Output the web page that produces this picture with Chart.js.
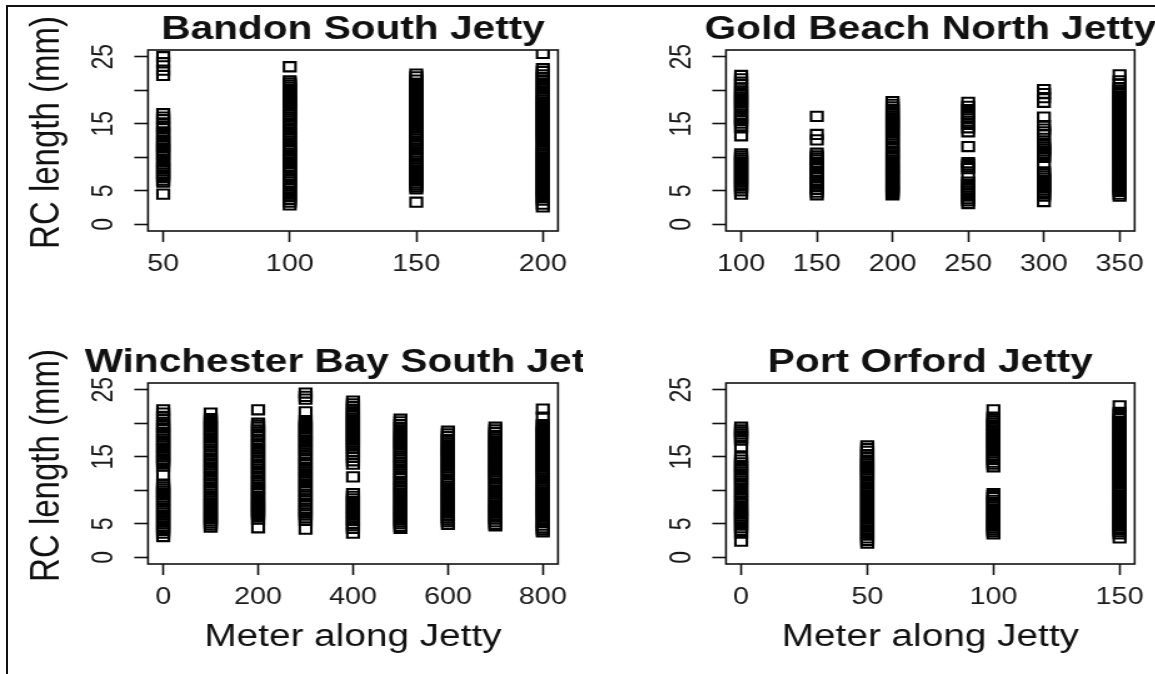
<!DOCTYPE html>
<html>
<head>
<meta charset="utf-8">
<title>RC length along jetties</title>
<script src="https://cdn.jsdelivr.net/npm/chart.js@4.4.1/dist/chart.umd.min.js"></script>
<style>
  body { margin: 0; background: #fff; }
  #page { position: relative; width: 1155px; height: 674px; overflow: hidden; background: #fff; }
  #frame { position: absolute; left: 6px; top: 5px; right: -10px; bottom: -10px; border-left: 2px solid #111; border-top: 2px solid #111; }
  canvas { position: absolute; transform: scaleX(1.25); transform-origin: 0 0; }
</style>
</head>
<body>
<div id="page">
  <div id="frame"></div>
  <canvas id="bandon" width="466" height="337" style="left:0px;top:0px"></canvas>
  <canvas id="goldBeach" width="462" height="337" style="left:577.5px;top:0px"></canvas>
  <canvas id="winchester" width="466" height="337" style="left:0px;top:333px"></canvas>
  <canvas id="portOrford" width="462" height="337" style="left:577.5px;top:333px"></canvas>
</div>
<script>
// RC length (mm) of every sample, one list per station along the jetty
const bandonMeters = [50, 100, 150, 200];
const bandonLengths = [
  [25.0, 24.1, 23.0, 22.2, 16.5, 16.0, 15.6, 15.0, 14.6, 14.3, 13.8, 13.5, 13.2, 12.6, 12.3, 12.0, 11.7, 11.4, 11.1, 10.8, 10.5, 10.2, 9.6, 9.3, 9.0, 8.6, 8.3, 8.0, 7.6, 7.3, 7.0, 6.6, 6.3, 4.5],
  [23.5, 21.4, 21.1, 20.8, 20.5, 20.2, 19.8, 19.5, 19.2, 18.9, 18.6, 18.3, 18.0, 17.7, 17.4, 17.1, 16.8, 16.5, 16.0, 15.7, 15.4, 15.0, 14.7, 14.2, 13.8, 13.5, 13.1, 12.8, 12.4, 12.0, 11.6, 11.3, 11.0, 10.6, 10.3, 10.0, 9.6, 9.3, 9.0, 8.6, 8.3, 8.0, 7.7, 7.3, 7.0, 6.7, 6.3, 6.0, 5.7, 5.3, 4.9, 4.5, 4.1, 3.7, 3.3, 2.9],
  [22.4, 22.0, 21.5, 21.0, 20.7, 20.4, 20.1, 19.8, 19.5, 19.1, 18.8, 18.5, 18.2, 17.9, 17.6, 17.3, 17.0, 16.7, 16.4, 16.1, 15.8, 15.5, 15.2, 14.8, 14.4, 14.1, 13.7, 13.4, 13.1, 12.7, 12.4, 12.0, 11.7, 11.4, 11.1, 10.8, 10.4, 10.1, 9.8, 9.4, 9.1, 8.8, 8.4, 8.1, 7.8, 7.5, 7.1, 6.8, 6.5, 6.2, 5.9, 5.6, 5.3, 3.3],
  [25.5, 23.2, 22.8, 22.3, 21.9, 21.5, 21.1, 20.7, 20.3, 19.9, 19.5, 19.2, 18.8, 18.5, 18.2, 17.9, 17.6, 17.3, 17.0, 16.7, 16.4, 16.1, 15.8, 15.5, 15.2, 14.9, 14.6, 14.3, 14.0, 13.7, 13.4, 13.1, 12.8, 12.5, 12.0, 11.7, 11.2, 10.9, 10.6, 10.3, 10.0, 9.7, 9.4, 9.1, 8.8, 8.5, 8.2, 7.9, 7.6, 7.3, 7.0, 6.7, 6.4, 6.1, 5.8, 5.5, 5.2, 4.9, 4.6, 4.3, 4.0, 3.6, 3.0, 2.6],
];

const goldMeters = [100, 150, 200, 250, 300, 350];
const goldLengths = [
  [22.2, 21.7, 21.2, 20.8, 20.3, 19.9, 19.6, 19.3, 19.0, 18.7, 18.4, 18.1, 17.8, 17.5, 17.2, 16.8, 16.4, 16.1, 15.8, 15.5, 15.1, 14.7, 14.4, 13.2, 10.5, 10.2, 9.9, 9.6, 9.3, 9.0, 8.7, 8.4, 8.1, 7.8, 7.5, 7.2, 6.9, 6.6, 6.3, 6.0, 5.7, 5.4, 5.0, 4.5],
  [16.1, 13.4, 12.6, 10.6, 10.2, 9.9, 9.6, 9.2, 8.9, 8.6, 8.3, 7.9, 7.6, 7.3, 7.0, 6.6, 6.3, 6.0, 5.6, 5.2, 4.8, 4.4],
  [18.3, 17.9, 17.5, 17.1, 16.7, 16.4, 16.1, 15.8, 15.5, 15.2, 14.9, 14.6, 14.3, 14.0, 13.7, 13.3, 13.0, 12.7, 12.3, 12.0, 11.6, 11.3, 10.9, 10.6, 10.3, 10.0, 9.6, 9.3, 9.0, 8.6, 8.3, 8.0, 7.7, 7.4, 7.1, 6.8, 6.4, 6.1, 5.8, 5.5, 5.2, 4.9, 4.6, 4.4],
  [18.2, 17.6, 17.1, 16.5, 16.0, 15.4, 14.9, 14.4, 13.8, 11.6, 9.2, 8.9, 8.6, 8.3, 7.2, 6.3, 6.0, 5.6, 5.3, 5.0, 4.6, 4.2, 3.8, 3.5, 3.1],
  [20.1, 19.5, 18.9, 18.2, 16.0, 14.7, 14.2, 13.8, 13.4, 12.1, 11.8, 11.5, 11.2, 10.9, 10.6, 10.3, 10.0, 8.9, 7.8, 7.5, 7.2, 6.9, 6.6, 6.3, 6.0, 5.7, 5.4, 5.1, 4.8, 4.5, 4.2, 3.4],
  [22.3, 21.4, 20.9, 20.4, 20.0, 19.7, 19.4, 19.1, 18.8, 18.5, 18.2, 17.9, 17.6, 17.3, 17.0, 16.7, 16.4, 16.1, 15.8, 15.5, 15.2, 14.9, 14.6, 14.3, 14.0, 13.7, 13.4, 13.1, 12.8, 12.5, 12.2, 11.9, 11.6, 11.3, 11.0, 10.7, 10.4, 10.1, 9.8, 9.5, 9.2, 8.9, 8.6, 8.3, 8.0, 7.6, 7.3, 7.0, 6.7, 6.4, 6.1, 5.8, 5.5, 5.2, 4.9, 4.5, 4.2],
];

const winchesterMeters = [0, 100, 200, 300, 400, 500, 600, 700, 800];
const winchesterLengths = [
  [22.0, 21.5, 21.0, 20.5, 19.9, 19.6, 19.3, 19.0, 18.6, 18.3, 18.0, 17.6, 17.3, 17.0, 16.6, 16.3, 16.0, 15.6, 15.3, 15.0, 14.6, 14.3, 14.0, 13.6, 12.3, 10.8, 10.5, 10.2, 9.9, 9.6, 9.3, 9.0, 8.6, 8.3, 8.0, 7.6, 7.3, 7.0, 6.6, 6.3, 6.0, 5.6, 5.3, 5.0, 4.6, 4.3, 4.0, 3.6, 3.1],
  [21.5, 20.7, 20.4, 20.1, 19.8, 19.5, 19.1, 18.8, 18.5, 18.1, 17.8, 17.5, 17.1, 16.8, 16.5, 16.1, 15.8, 15.4, 15.1, 14.8, 14.4, 14.1, 13.8, 13.4, 13.1, 12.8, 12.4, 12.1, 11.8, 11.4, 11.1, 10.8, 10.4, 10.1, 9.8, 9.4, 9.1, 8.8, 8.4, 8.1, 7.8, 7.5, 7.2, 6.9, 6.6, 6.3, 6.0, 5.7, 5.4, 5.1, 4.8, 4.5],
  [22.0, 20.0, 19.7, 19.4, 19.0, 18.7, 18.3, 18.0, 17.6, 17.3, 16.9, 16.6, 16.2, 15.9, 15.6, 15.2, 14.9, 14.5, 14.2, 13.9, 13.5, 13.2, 12.8, 12.5, 12.1, 11.8, 11.4, 11.1, 10.8, 10.4, 10.1, 9.8, 9.5, 9.1, 8.8, 8.5, 8.2, 7.9, 7.6, 7.3, 7.0, 6.7, 6.4, 6.1, 5.7, 4.4],
  [24.5, 24.0, 23.6, 21.7, 20.4, 20.1, 19.8, 19.5, 19.2, 18.8, 18.5, 18.2, 17.9, 17.5, 17.2, 16.9, 16.5, 16.2, 15.9, 15.5, 15.2, 14.8, 14.5, 14.1, 13.8, 13.4, 13.0, 12.7, 12.3, 11.9, 11.6, 11.2, 10.8, 10.5, 10.1, 9.8, 9.4, 9.1, 8.7, 8.4, 8.0, 7.7, 7.3, 7.0, 6.6, 6.3, 5.9, 5.5, 4.2],
  [23.3, 22.9, 22.5, 22.1, 21.7, 21.4, 21.1, 20.8, 20.5, 20.2, 19.9, 19.6, 19.3, 19.0, 18.7, 18.4, 18.1, 17.8, 17.5, 17.2, 16.9, 16.6, 16.2, 15.8, 15.4, 14.9, 14.4, 13.9, 12.0, 9.5, 9.1, 8.7, 8.3, 7.9, 7.5, 7.1, 6.7, 6.3, 5.9, 5.5, 5.1, 4.7, 4.3, 3.6],
  [20.6, 20.2, 19.8, 19.4, 19.0, 18.6, 18.3, 18.0, 17.7, 17.4, 17.1, 16.8, 16.5, 16.2, 15.9, 15.5, 15.1, 14.8, 14.5, 14.2, 13.8, 13.5, 13.1, 12.7, 12.4, 12.0, 11.7, 11.3, 10.9, 10.6, 10.3, 10.0, 9.6, 9.3, 9.0, 8.7, 8.3, 8.0, 7.7, 7.4, 7.1, 6.8, 6.5, 6.2, 5.9, 5.6, 5.3, 5.0, 4.6, 4.3],
  [18.8, 18.4, 18.0, 17.6, 17.3, 17.0, 16.7, 16.4, 16.1, 15.8, 15.5, 15.2, 14.9, 14.6, 14.3, 13.9, 13.6, 13.3, 13.0, 12.7, 12.4, 12.0, 11.6, 11.3, 11.0, 10.6, 10.3, 10.0, 9.7, 9.4, 9.1, 8.8, 8.5, 8.2, 7.8, 7.5, 7.2, 6.9, 6.6, 6.2, 5.9, 5.6, 5.3, 4.9],
  [19.4, 19.0, 18.6, 18.2, 17.9, 17.6, 17.3, 17.0, 16.7, 16.4, 16.1, 15.8, 15.5, 15.2, 14.8, 14.5, 14.2, 13.9, 13.6, 13.3, 13.0, 12.7, 12.4, 12.1, 11.8, 11.4, 11.0, 10.6, 10.3, 9.9, 9.5, 9.1, 8.7, 8.4, 8.1, 7.8, 7.5, 7.2, 6.9, 6.6, 6.3, 6.0, 5.7, 5.3, 4.9, 4.7],
  [22.1, 20.9, 19.8, 19.5, 19.2, 18.9, 18.6, 18.3, 18.0, 17.7, 17.4, 17.1, 16.8, 16.5, 16.2, 15.9, 15.6, 15.3, 15.0, 14.7, 14.4, 14.1, 13.8, 13.5, 13.2, 12.9, 12.6, 12.2, 11.8, 11.4, 11.0, 10.7, 10.3, 10.0, 9.7, 9.4, 9.1, 8.8, 8.5, 8.2, 7.9, 7.6, 7.3, 7.0, 6.7, 6.4, 6.0, 5.6, 5.2, 4.8, 4.4, 4.1, 3.8],
];

const portMeters = [0, 50, 100, 150];
const portLengths = [
  [19.4, 19.0, 18.7, 18.4, 18.1, 17.8, 17.5, 16.5, 14.9, 14.5, 14.1, 13.7, 13.4, 13.1, 12.7, 12.4, 12.1, 11.7, 11.4, 11.0, 10.6, 10.2, 9.8, 9.4, 9.0, 8.7, 8.3, 7.9, 7.5, 7.1, 6.8, 6.5, 6.2, 5.9, 5.6, 5.2, 4.8, 4.4, 4.0, 3.6, 2.4],
  [16.6, 16.2, 15.8, 15.3, 14.9, 14.5, 14.2, 13.9, 13.6, 13.3, 13.0, 12.7, 12.4, 12.1, 11.7, 11.3, 10.9, 10.5, 10.1, 9.7, 9.3, 8.9, 8.5, 8.1, 7.7, 7.3, 6.9, 6.5, 6.1, 5.7, 5.3, 4.9, 4.5, 4.1, 3.7, 3.3, 2.9, 2.5, 2.1],
  [22.0, 20.9, 20.6, 20.3, 20.0, 19.7, 19.4, 19.0, 18.7, 18.4, 18.1, 17.8, 17.5, 17.1, 16.8, 16.5, 16.2, 15.9, 15.6, 15.2, 14.9, 14.6, 14.2, 13.9, 13.5, 9.5, 9.2, 8.9, 8.5, 8.2, 7.9, 7.5, 7.2, 6.9, 6.5, 6.2, 5.9, 5.6, 5.3, 5.0, 4.7, 4.4, 4.1, 3.8, 3.5],
  [22.6, 21.6, 21.3, 21.0, 20.7, 20.3, 20.0, 19.7, 19.4, 19.1, 18.8, 18.5, 18.2, 17.9, 17.6, 17.3, 17.0, 16.7, 16.4, 16.1, 15.8, 15.5, 15.2, 14.9, 14.6, 14.3, 14.0, 13.7, 13.4, 13.1, 12.8, 12.5, 12.2, 11.9, 11.6, 11.3, 11.0, 10.6, 10.2, 9.9, 9.6, 9.3, 9.0, 8.7, 8.4, 8.1, 7.8, 7.5, 7.2, 6.8, 6.5, 6.2, 5.9, 5.6, 5.3, 5.0, 4.7, 4.4, 4.1, 3.8, 3.5, 2.9],
];

// axis ticks
const bandonTicks = [50, 100, 150, 200];
const goldTicks = [100, 150, 200, 250, 300, 350];
const winchesterTicks = [0, 200, 400, 600, 800];
const portTicks = [0, 50, 100, 150];
const lengthTicks = [0, 5, 10, 15, 20, 25];
const lengthTickLabels = ["0", "5", "", "15", "", "25"];

const FONT = '"Liberation Sans", Arial, Helvetica, sans-serif';
Chart.defaults.font.family = FONT;
Chart.defaults.color = "#1a1a1a";

// box around the plot region, bold heading and the rotated y label
const panelText = {
  id: "panelText",
  afterDraw: (chart, args, opts) => {
    let ctx = chart.ctx;
    let area = chart.chartArea;
    ctx.save();

    ctx.strokeStyle = "#111";
    ctx.lineWidth = 1.6;
    ctx.strokeRect(area.left, area.top, area.right - area.left, area.bottom - area.top);

    ctx.fillStyle = "#111";
    ctx.textAlign = "center";
    ctx.textBaseline = "alphabetic";
    ctx.font = "bold 32.5px " + FONT;
    ctx.fillText(opts.title, (area.left + area.right) / 2, area.top - 11);

    if (opts.yLabel) {
      ctx.translate(38, (area.top + area.bottom) / 2 - 8);
      ctx.rotate(-Math.PI / 2);
      ctx.font = "33px " + FONT;
      ctx.textBaseline = "middle";
      ctx.fillText(opts.yLabel, 0, 0);
    }
    ctx.restore();
  },
};

function drawPanel(id, meters, lengths, meterTicks, xMin, xMax, opts) {
  const points = [];
  meters.forEach((m, i) => {
    lengths[i].forEach((v) => points.push({ x: m, y: v }));
  });

  const tickGrid = {
    display: true,
    drawOnChartArea: false,
    drawTicks: true,
    tickLength: 11,
    tickWidth: 1.6,
    tickColor: "#111",
  };

  return new Chart(document.getElementById(id).getContext("2d"), {
    type: "scatter",
    data: {
      datasets: [
        {
          data: points,
          pointStyle: "rect",
          pointRadius: 6.5,
          pointBorderWidth: 2.1,
          pointBorderColor: "#000",
          pointBackgroundColor: "rgba(0,0,0,0)",
        },
      ],
    },
    options: {
      responsive: false,
      animation: false,
      events: [],
      layout: { padding: { left: 0, right: opts.padRight, top: 50, bottom: 0 } },
      plugins: {
        legend: { display: false },
        tooltip: { enabled: false },
        panelText: { title: opts.title, yLabel: opts.yLabel },
      },
      scales: {
        x: {
          type: "linear",
          min: xMin,
          max: xMax,
          afterBuildTicks: (scale) => {
            scale.ticks = meterTicks.map((v) => ({ value: v }));
          },
          afterFit: (scale) => {
            scale.height = 106;
          },
          grid: tickGrid,
          border: { display: false },
          ticks: { autoSkip: false, maxRotation: 0, padding: 9, font: { size: 23 }, color: "#1a1a1a" },
          title: {
            display: !!opts.xLabel,
            text: opts.xLabel || "",
            color: "#111",
            font: { size: 31 },
            padding: { top: 0, bottom: 14 },
          },
        },
        y: {
          type: "linear",
          min: -1,
          max: 26,
          afterBuildTicks: (scale) => {
            scale.ticks = lengthTicks.map((v) => ({ value: v }));
          },
          afterFit: (scale) => {
            scale.width = 118.4;
          },
          grid: tickGrid,
          border: { display: false },
          ticks: {
            autoSkip: false,
            minRotation: 90,
            maxRotation: 90,
            crossAlign: "center",
            padding: 11,
            font: { size: 23 },
            color: "#1a1a1a",
            callback: (value, index) => lengthTickLabels[index],
          },
        },
      },
    },
    plugins: [panelText],
  });
}

drawPanel("bandon", bandonMeters, bandonLengths, bandonTicks, 44, 206, {
  title: "Bandon South Jetty",
  yLabel: "RC length (mm)",
  padRight: 19.6,
});
drawPanel("goldBeach", goldMeters, goldLengths, goldTicks, 90, 360, {
  title: "Gold Beach North Jetty",
  padRight: 15.6,
});
drawPanel("winchester", winchesterMeters, winchesterLengths, winchesterTicks, -32, 832, {
  title: "Winchester Bay South Jetty",
  yLabel: "RC length (mm)",
  xLabel: "Meter along Jetty",
  padRight: 19.6,
});
drawPanel("portOrford", portMeters, portLengths, portTicks, -6, 156, {
  title: "Port Orford Jetty",
  xLabel: "Meter along Jetty",
  padRight: 15.6,
});
</script>
</body>
</html>
